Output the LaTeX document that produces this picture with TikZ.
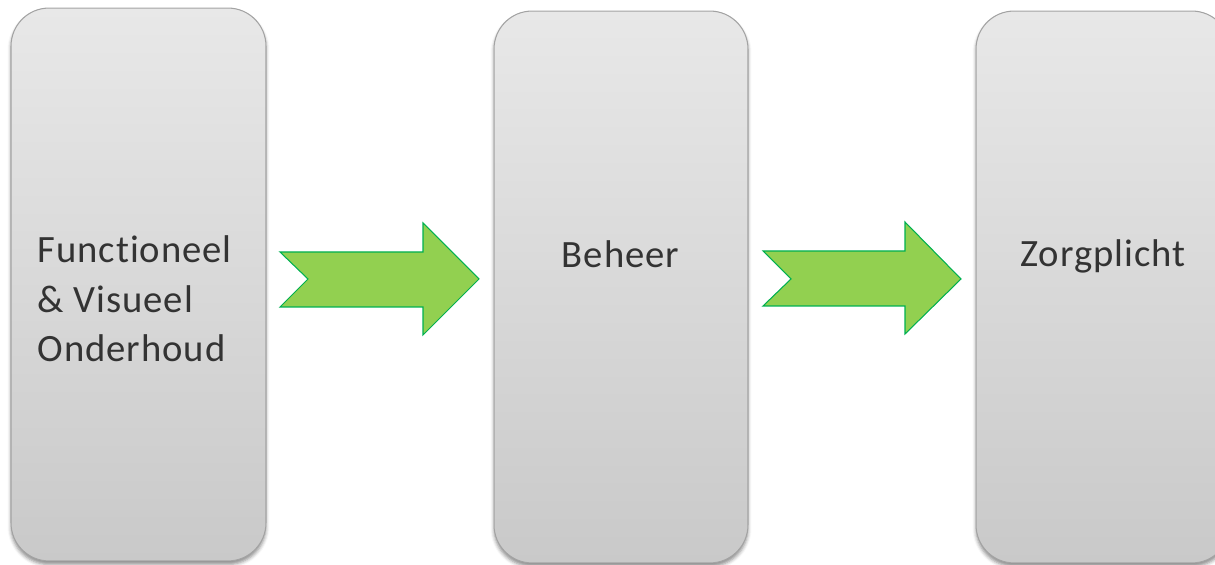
\documentclass[tikz,border=0pt]{standalone}
\usepackage{fontspec}
\setmainfont{Carlito}[Ligatures=NoCommon, LetterSpace=2.5]
\usepackage{tikz}
\usetikzlibrary{positioning}
\usetikzlibrary{shadows.blur}
\definecolor{boxtop}{HTML}{E8E8E8}
\definecolor{boxbottom}{HTML}{C9C9C9}
\definecolor{boxline}{HTML}{A3A3A3}
\definecolor{arrowfill}{HTML}{92D050}
\definecolor{arrowline}{HTML}{00B050}
\definecolor{textgray}{HTML}{333333}
\tikzset{every picture/.style={line width=0.75pt}}

\begin{document}
\begin{tikzpicture}[x=0.02cm,y=0.02cm,
    stagebox/.style={draw=boxline, line width=0.6pt, rounded corners=0.76cm,
      top color=boxtop, bottom color=boxbottom, inner sep=0pt,
      minimum width=5.08cm, minimum height=11.04cm,
      blur shadow={shadow xshift=0pt, shadow yshift=-2pt, shadow blur radius=2pt, shadow opacity=45}},
    chevron/.style={draw=arrowline, fill=arrowfill, line width=0.6pt, line join=miter},
    stagetext/.style={text=textgray, font=\fontsize{22}{28.2}\selectfont, inner sep=0pt}]
  \useasboundingbox (0,0) rectangle (1215,565);
  \clip (0,0) rectangle (1215,565);

    % the three stages
    \node[stagebox, minimum width=5.1cm, minimum height=11.06cm] (box1) at (138.5,280.5) {};
    \node[stagebox] (box2) at (621,278) {};
    \node[stagebox] (box3) at (1103,278) {};

    % green arrows between the stages
    \draw[chevron] (280,313) -- (423,313) -- (423,342) -- (479,286) -- (423,230) -- (423,258) -- (280,258) -- (308,286) -- cycle;
    \draw[chevron] (763,314) -- (905,314) -- (905,343) -- (961,286) -- (905,231) -- (905,259) -- (763,259) -- (791,286) -- cycle;

    \node[stagetext, align=left, anchor=base west] (lbl1) at (37,203) {Functioneel\\\& Visueel\\Onderhoud};
    \node[stagetext, anchor=base] (lbl2) at (620.5,297) {Beheer};
    \node[stagetext, anchor=base] (lbl3) at (1103,298) {Zorgplicht};
  \end{tikzpicture}
\end{document}
